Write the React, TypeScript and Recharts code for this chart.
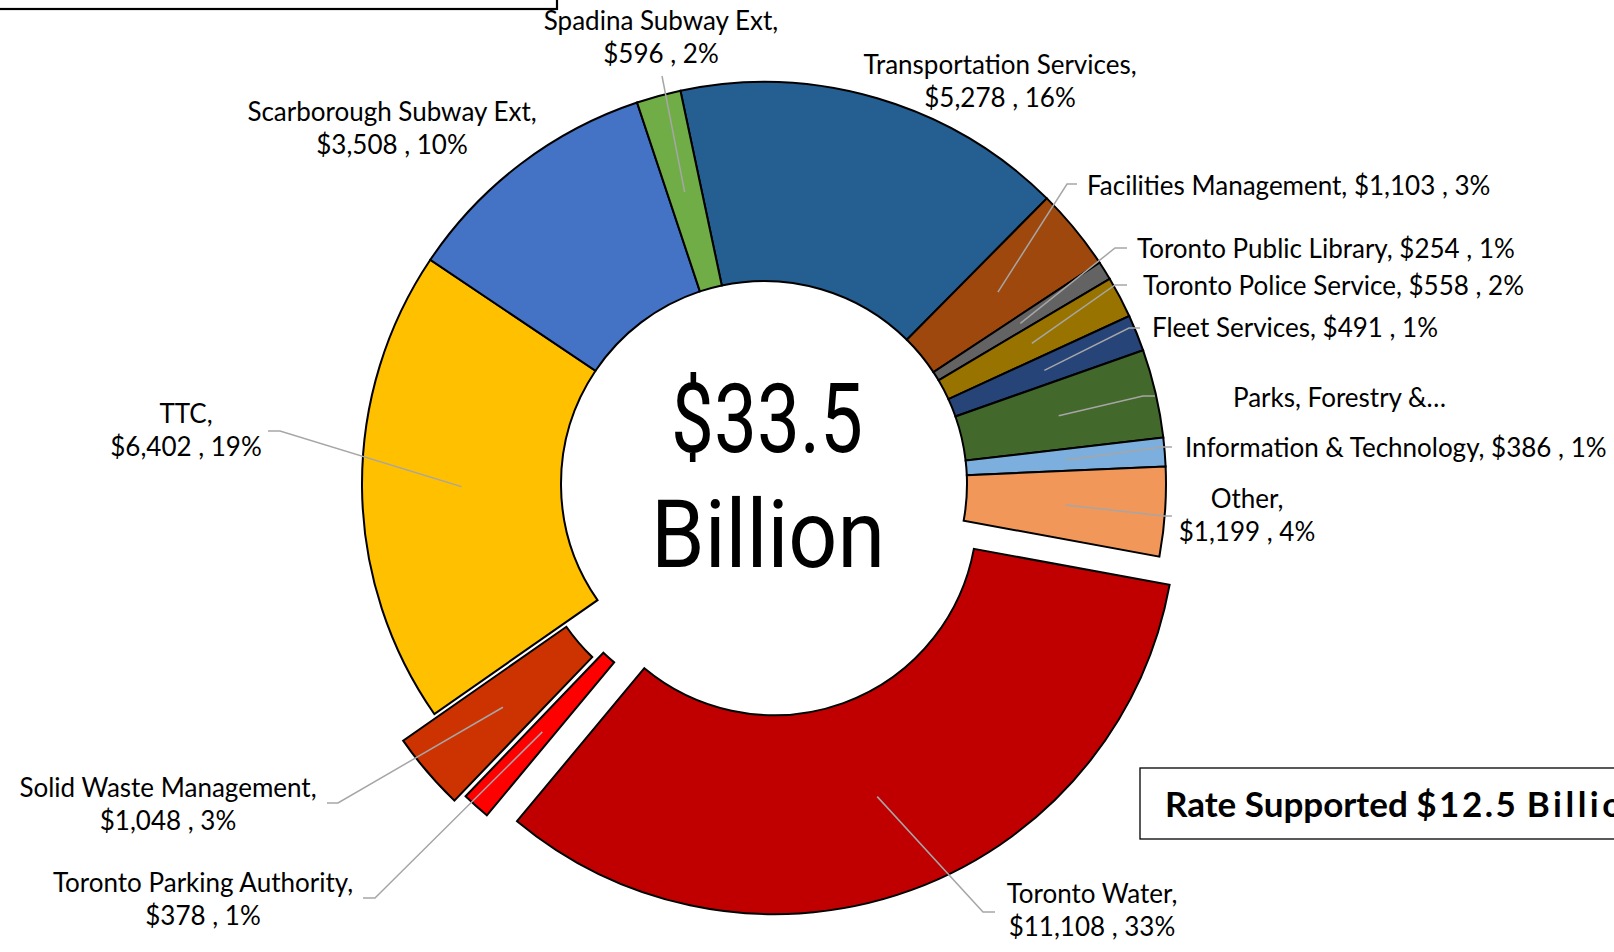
import React from "react";
import { PieChart, Pie, Cell } from "recharts";

// capital budget by program ($ millions), clockwise from the top
const names = [
  "Transportation Services",
  "Facilities Management",
  "Toronto Public Library",
  "Toronto Police Service",
  "Fleet Services",
  "Parks, Forestry & Recreation",
  "Information & Technology",
  "Other",
  "Toronto Water",
  "Toronto Parking Authority",
  "Solid Waste Management",
  "TTC",
  "Scarborough Subway Ext",
  "Spadina Subway Ext",
];
const values = [5278, 1103, 254, 558, 491, 1191, 386, 1199, 11108, 378, 1048, 6402, 3508, 596];
const colors = [
  "#255E91", "#9E480E", "#636363", "#997300", "#264478", "#43682B", "#7CAFDD",
  "#F1975A", "#C00000", "#FF0000", "#CC3300", "#FFC000", "#4472C4", "#70AD47",
];
// slices pulled out of the ring, with how far (px)
const rateSupported = ["Toronto Water", "Toronto Parking Authority", "Solid Waste Management"];
const explodeBy = [30, 30, 41];
const truncated: Record<string, string> = { "Parks, Forestry & Recreation": "Parks, Forestry &…" };

const totalText = ["$33.5", "Billion"];
const rateText = ["Rate Supported", "$12.5", "Billion"];

const data = names.map((name, i) => ({ name, value: values[i] }));

// geometry
const W = 1614;
const H = 952;
const CX = 764;
const CY = 484;
const R_IN = 203;
const R_OUT = 402;
const START = 102;
const RAD = Math.PI / 180;
const FONT = "Lato, 'Open Sans', sans-serif";
const LEADER = "#A6A6A6";

// label placement: x, baseline y, anchor, lines, and leader start [x, y, stub]
type Place = { x: number; y: number; anchor: "start" | "middle"; lines: 1 | 2; lead?: [number, number, number] };
const labelPlace: Place[] = [
  { x: 1000, y: 74, anchor: "middle", lines: 2 },
  { x: 1087, y: 195, anchor: "start", lines: 1, lead: [1077, 184, -10] },
  { x: 1137, y: 258, anchor: "start", lines: 1, lead: [1127, 248, -12] },
  { x: 1143, y: 295, anchor: "start", lines: 1, lead: [1127, 285, -12] },
  { x: 1152, y: 337, anchor: "start", lines: 1, lead: [1140, 328, -11] },
  { x: 1233, y: 407, anchor: "start", lines: 1, lead: [1155, 396, -12] },
  { x: 1185, y: 457, anchor: "start", lines: 1, lead: [1172, 447, -10] },
  { x: 1247, y: 508, anchor: "middle", lines: 2, lead: [1172, 516, -8] },
  { x: 1092, y: 903, anchor: "middle", lines: 2, lead: [995, 912, -12] },
  { x: 203, y: 892, anchor: "middle", lines: 2, lead: [363, 898, 12] },
  { x: 168, y: 797, anchor: "middle", lines: 2, lead: [327, 803, 11] },
  { x: 186, y: 423, anchor: "middle", lines: 2, lead: [268, 431, 12] },
  { x: 392, y: 121, anchor: "middle", lines: 2 },
  { x: 661, y: 30, anchor: "middle", lines: 2, lead: [662, 76, 0] },
];

const total = values.reduce((a, b) => a + b, 0);

// offset of an exploded slice along its mid angle
function explodeOffset(idx: number, dist: number) {
  const before = values.slice(0, idx).reduce((a, b) => a + b, 0);
  const mid = START - (360 * (before + values[idx] / 2)) / total;
  return { dx: dist * Math.cos(mid * RAD), dy: -dist * Math.sin(mid * RAD) };
}

// one ring per group: the main ring plus one per exploded slice
const groups: { members: number[]; dx: number; dy: number }[] = [
  { members: names.map((_, i) => i).filter((i) => !rateSupported.includes(names[i])), dx: 0, dy: 0 },
  ...rateSupported.map((n, k) => {
    const idx = names.indexOf(n);
    return { members: [idx], ...explodeOffset(idx, explodeBy[k]) };
  }),
];

const makeLabel = (members: number[]) => (props: any) => {
  const { cx, cy, midAngle, innerRadius, outerRadius, index, value, percent } = props;
  if (!members.includes(index)) return null;
  const place = labelPlace[index];
  const name = names[index];
  const line1 = `${name},`;
  const line2 = `$${value.toLocaleString("en-US")} , ${Math.round(percent * 100)}%`;
  const lines = truncated[name]
    ? [truncated[name]]
    : place.lines === 2
    ? [line1, line2]
    : [`${line1} ${line2}`];
  const r = (innerRadius + outerRadius) / 2;
  const px = cx + r * Math.cos(-midAngle * RAD);
  const py = cy + r * Math.sin(-midAngle * RAD);
  return (
    <g key={`lbl-${index}`}>
      {place.lead && (
        <path
          d={`M${place.lead[0]},${place.lead[1]}H${place.lead[0] + place.lead[2]}L${px},${py}`}
          fill="none"
          stroke={LEADER}
          strokeWidth={1.5}
        />
      )}
      <text
        x={place.x}
        y={place.y}
        textAnchor={place.anchor}
        fontFamily={FONT}
        fontSize={26}
        fill="#000"
      >
        {lines.map((l, k) => (
          <tspan key={k} x={place.x} dy={k === 0 ? 0 : 33}>
            {l}
          </tspan>
        ))}
      </text>
    </g>
  );
};

export default function App() {
  return (
    <div style={{ position: "absolute", left: 0, top: 0, width: W, height: H, overflow: "hidden", background: "#fff" }}>
      <PieChart width={W} height={H} margin={{ top: 0, right: 0, bottom: 0, left: 0 }}>
        {groups.map((g, gi) => (
          <Pie
            key={gi}
            data={data}
            dataKey="value"
            nameKey="name"
            cx={CX + g.dx}
            cy={CY + g.dy}
            innerRadius={R_IN}
            outerRadius={R_OUT}
            startAngle={START}
            endAngle={START - 360}
            label={makeLabel(g.members)}
            labelLine={false}
            isAnimationActive={false}
          >
            {data.map((_, i) => (
              <Cell
                key={i}
                fill={g.members.includes(i) ? colors[i] : "none"}
                stroke={g.members.includes(i) ? "#000" : "none"}
                strokeWidth={2}
              />
            ))}
          </Pie>
        ))}
      </PieChart>
      <svg width={W} height={H} style={{ position: "absolute", left: 0, top: 0, pointerEvents: "none" }}>
        <rect x={-4} y={-4} width={561} height={13} fill="none" stroke="#000" strokeWidth={2.2} />
        <text x={767} y={452} textAnchor="middle" fontFamily="Roboto, sans-serif" fontSize={96} textLength={192} lengthAdjust="spacingAndGlyphs" fill="#000">
          {totalText[0]}
        </text>
        <text x={768} y={567} textAnchor="middle" fontFamily="Roboto, sans-serif" fontSize={94} textLength={234} lengthAdjust="spacingAndGlyphs" fill="#000">
          {totalText[1]}
        </text>
        <rect x={1140} y={768} width={600} height={71} fill="#fff" stroke="#000" strokeWidth={1.3} />
        <text x={1165} y={817} fontFamily={FONT} fontWeight={700} fontSize={35} fill="#000">
          {rateText[0]}{" "}
          <tspan letterSpacing={2.5}>{rateText[1]}</tspan>{" "}
          <tspan letterSpacing={3.5}>{rateText[2]}</tspan>
        </text>
      </svg>
    </div>
  );
}
